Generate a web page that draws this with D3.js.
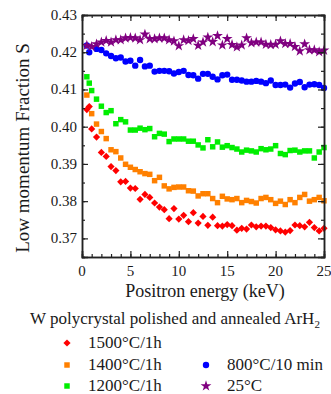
<!DOCTYPE html>
<html><head><meta charset="utf-8">
<script src="https://cdn.jsdelivr.net/npm/d3@7"></script>
<style>body{margin:0;background:#fff}svg{display:block}</style>
</head><body><svg id="c" width="331" height="394"></svg>
<script>
// energies (keV)
const energyCommon = [1.5,2.0,2.5,3.0,3.5,4.0,4.5,5.0,5.5,6.0,6.5,7.0,7.5,8.0,8.5,9.0,9.5,10.0,10.5,11.0,11.5,12.0,12.5,13.0,13.5,14.0,14.5,15.0,15.5,16.0,16.5,17.0,17.5,18.0,18.5,19.0,19.5,20.0,20.5,21.0,21.5,22.0,22.5,23.0,23.5,24.0,24.5,25.0];
const energy1500 = [0.5,0.75,1.0].concat(energyCommon);
const energy1400 = [0.5,1.0].concat(energyCommon);
const energy1200 = [0.5,0.75,1.0].concat(energyCommon);
const energy800  = [0.5,0.75].concat(energyCommon);
const energy25   = [0.5,1.0].concat(energyCommon);

const s1500 = [0.4046,0.4054,0.3994, 0.3972,0.3931,0.3920,0.3893,0.3882,0.3852,0.3853,0.3835,0.3834,0.3805,0.3818,0.3810,0.3795,0.3784, 0.3777,0.3753,0.3780,0.3752,0.3762,0.3745,0.3769,0.3741,0.3759,0.3735,0.3757,0.3734,0.3733,0.3737,0.3734,0.3722,0.3727, 0.3725,0.3736,0.3731,0.3733,0.3733,0.3729,0.3723,0.3720,0.3717,0.3721,0.3736,0.3734,0.3731,0.3743,0.3729,0.3720,0.3727];
const s1400 = [0.4085,0.4035, 0.4007,0.3987,0.3968,0.3938,0.3933,0.3916,0.3899,0.3891,0.3885,0.3879,0.3874,0.3872,0.3855,0.3864, 0.3841,0.3833,0.3837,0.3838,0.3838,0.3828,0.3827,0.3814,0.3820,0.3820,0.3807,0.3796,0.3813,0.3806,0.3804,0.3807,0.3796, 0.3802,0.3799,0.3795,0.3807,0.3810,0.3804,0.3794,0.3800,0.3791,0.3804,0.3796,0.3810,0.3818,0.3800,0.3804,0.3810,0.3801];
const s1200 = [0.4134,0.4117,0.4097, 0.4074,0.4055,0.4038,0.4043,0.4008,0.4019,0.4013,0.3991,0.3991,0.3996,0.3992,0.3995,0.3973,0.3982, 0.3980,0.3960,0.3967,0.3967,0.3967,0.3961,0.3961,0.3951,0.3943,0.3965,0.3946,0.3959,0.3945,0.3949,0.3944,0.3940,0.3932, 0.3937,0.3935,0.3932,0.3941,0.3938,0.3940,0.3949,0.3928,0.3925,0.3936,0.3937,0.3932,0.3935,0.3935,0.3916,0.3932,0.3944];
const s800 = [0.4218,0.4200, 0.4209,0.4206,0.4197,0.4190,0.4184,0.4186,0.4175,0.4177,0.4164,0.4179,0.4162,0.4164,0.4148,0.4150, 0.4150,0.4149,0.4143,0.4147,0.4150,0.4139,0.4138,0.4129,0.4142,0.4142,0.4134,0.4127,0.4138,0.4140,0.4126,0.4126,0.4124, 0.4121,0.4121,0.4123,0.4121,0.4117,0.4124,0.4112,0.4112,0.4113,0.4105,0.4116,0.4120,0.4106,0.4113,0.4114,0.4112,0.4104];
const s25 = [0.4218,0.4215, 0.4222,0.4227,0.4231,0.4227,0.4233,0.4233,0.4238,0.4239,0.4238,0.4233,0.4248,0.4236,0.4236,0.4238, 0.4238,0.4233,0.4230,0.4217,0.4233,0.4231,0.4236,0.4218,0.4227,0.4240,0.4228,0.4244,0.4219,0.4236,0.4220,0.4214,0.4219, 0.4238,0.4225,0.4227,0.4227,0.4221,0.4220,0.4221,0.4230,0.4223,0.4223,0.4215,0.4203,0.4222,0.4206,0.4206,0.4201,0.4205];

const seriesNames = ["1500°C/1h","1400°C/1h","1200°C/1h","800°C/10 min","25°C"];
const xTicks = [0,5,10,15,20,25];
const yTicks = [0.37,0.38,0.39,0.40,0.41,0.42,0.43];

const series = [
  {name:seriesNames[0], e:energy1500, s:s1500, color:"#ff0000", sym:"diamond"},
  {name:seriesNames[1], e:energy1400, s:s1400, color:"#ff8000", sym:"square"},
  {name:seriesNames[2], e:energy1200, s:s1200, color:"#00ee00", sym:"square"},
  {name:seriesNames[3], e:energy800,  s:s800,  color:"#0000ff", sym:"circle"},
  {name:seriesNames[4], e:energy25,   s:s25,   color:"#800080", sym:"star"}
];

const FONT = "Liberation Serif";
const TXT = "#1a1a1a";
const svg = d3.select("#c");
const L=82, R=324, T=15, B=257;
const x = d3.scaleLinear().domain([0,25]).range([L,R]);
const y = d3.scaleLinear().domain([0.365,0.43]).range([B,T]);

function symPath(sym){
  if(sym==="diamond") return d3.symbol(d3.symbolSquare,26)();
  if(sym==="square") return d3.symbol(d3.symbolSquare,30)();
  if(sym==="circle") return d3.symbol(d3.symbolCircle,32)();
  return d3.symbol(d3.symbolStar,36)();
}
function symTransform(sym,px,py){
  return `translate(${px},${py})` + (sym==="diamond"?" rotate(45)":"");
}

// points
series.forEach(sr=>{
  const pts = sr.e.map((e,i)=>({e, s:sr.s[i]}));
  svg.append("g").selectAll("path").data(pts).join("path")
    .attr("d", symPath(sr.sym))
    .attr("transform", d=>symTransform(sr.sym, x(d.e), y(d.s)))
    .attr("fill", sr.color);
});

// axes (lines and ticks)
const axCol="#222";
function styleAxis(g){
  g.select(".domain").attr("stroke",axCol).attr("stroke-width",1.5);
  g.selectAll(".tick line").attr("stroke",axCol).attr("stroke-width",1.2);
  g.selectAll(".tick text").remove();
}
const xMinor = d3.range(0,26,1), yMinor = d3.range(0.365,0.4301,0.005);
const axes = [
  [d3.axisBottom(x).tickValues(xMinor).tickSize(-3), `translate(0,${B})`],
  [d3.axisBottom(x).tickValues(xTicks).tickSize(-6), `translate(0,${B})`],
  [d3.axisTop(x).tickValues(xMinor).tickSize(-3), `translate(0,${T})`],
  [d3.axisTop(x).tickValues(xTicks).tickSize(-6), `translate(0,${T})`],
  [d3.axisLeft(y).tickValues(yMinor).tickSize(-3), `translate(${L},0)`],
  [d3.axisLeft(y).tickValues(yTicks).tickSize(-6), `translate(${L},0)`],
  [d3.axisRight(y).tickValues(yMinor).tickSize(-3), `translate(${R},0)`],
  [d3.axisRight(y).tickValues(yTicks).tickSize(-6), `translate(${R},0)`]
];
axes.forEach(([ax,tr])=>{ styleAxis(svg.append("g").attr("transform",tr).call(ax)); });

// tick labels
svg.append("g").selectAll("text").data(xTicks).join("text")
  .attr("x", d=>x(d)).attr("y", B+18.5).attr("text-anchor","middle")
  .style("font-family",FONT).style("font-size","15px").attr("fill",TXT)
  .text(d3.format("d"));
svg.append("g").selectAll("text").data(yTicks).join("text")
  .attr("x", L-5).attr("y", d=>y(d)+5).attr("text-anchor","end")
  .style("font-family",FONT).style("font-size","15px").attr("fill",TXT)
  .text(d3.format(".2f"));

// axis titles
svg.append("text").attr("x",205).attr("y",297).attr("text-anchor","middle")
  .style("font-family",FONT).style("font-size","18px").attr("fill",TXT).text("Positron energy (keV)");
svg.append("text").attr("transform",`translate(28.5,148) rotate(-90)`).attr("text-anchor","middle")
  .style("font-family",FONT).style("font-size","19px").attr("fill",TXT).text("Low momentum Fraction S");

// legend
const lt = svg.append("text").attr("x",30).attr("y",324)
  .style("font-family",FONT).style("font-size","17px").attr("fill",TXT);
lt.append("tspan").text("W polycrystal polished and annealed ArH");
lt.append("tspan").style("font-size","11px").attr("dy",4).text("2");

const legPos = [[67,348],[67,370],[67,391],[206,370],[206,391]];
series.forEach((sr,i)=>{
  const [lx,ly]=legPos[i];
  svg.append("path").attr("d",symPath(sr.sym)).attr("transform",symTransform(sr.sym,lx,ly-5)).attr("fill",sr.color);
  svg.append("text").attr("x",lx+21).attr("y",ly).style("font-family",FONT).style("font-size","17px").attr("fill",TXT).text(sr.name);
});
</script></body></html>
